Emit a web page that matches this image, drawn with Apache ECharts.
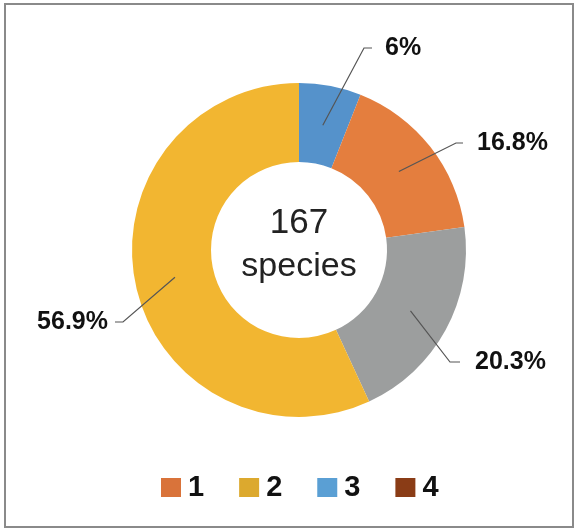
<!DOCTYPE html>
<html>
<head>
<meta charset="utf-8">
<script src="https://cdn.jsdelivr.net/npm/echarts@6/dist/echarts.min.js"></script>
<style>
  html, body { margin: 0; padding: 0; background: #fff; }
  #chart { width: 575px; height: 529px; }
</style>
</head>
<body>
<div id="chart"></div>
<script>
// slices, clockwise from 12 o'clock
const sliceNames = ["3", "1", "Other", "2", "4"]
const sliceValues = [6, 16.8, 20.3, 56.9, 0]
const legendNames = ["1", "2", "3", "4"]
const centerLines = ["167", "species"]

const sliceColors = {
    "3": "#5592cb",
    "1": "#e47e3e",
    "Other": "#9c9e9e",
    "2": "#f2b631",
    "4": "#8e3f17"
}
const legendColors = {
    "1": "#d9733a",
    "2": "#dca92e",
    "3": "#5a9fd4",
    "4": "#8a3c16"
}

// where each percentage label sits (left edge or right edge of the text)
const labelSpots = [
    { x: 385, y: 48, align: "left", gap: 13, run: 8 },
    { x: 477, y: 143, align: "left", gap: 14, run: 7 },
    { x: 475, y: 362, align: "left", gap: 15, run: 10 },
    { x: 108, y: 322, align: "right", gap: 7, run: 8 }
]

const center = [299, 250]
const fontFamily = "'Liberation Sans', Arial, sans-serif"

let myChart = echarts.init(document.getElementById("chart"))

let ringData = sliceNames.map((name, i) => ({
    name: name,
    value: sliceValues[i],
    itemStyle: { color: sliceColors[name] }
}))

let labelData = sliceNames.map((name, i) => ({
    name: name,
    value: sliceValues[i],
    label: { show: sliceValues[i] > 0 },
    labelLine: { show: sliceValues[i] > 0 }
}))

let option = {
    backgroundColor: "#fff",
    animation: false,
    legend: {
        data: legendNames.map(n => ({ name: n, itemStyle: { color: legendColors[n] } })),
        left: 156,
        top: 468,
        icon: "rect",
        itemWidth: 20,
        itemHeight: 19,
        itemGap: 35,
        selectedMode: false,
        textStyle: {
            fontFamily: fontFamily,
            fontWeight: "bold",
            fontSize: 29,
            color: "#111",
            padding: [0, 0, 0, 2]
        }
    },
    graphic: [
        {
            type: "rect",
            silent: true,
            shape: { x: 5, y: 4, width: 568, height: 523 },
            style: { fill: "none", stroke: "#8a8a8a", lineWidth: 2 }
        },
        {
            type: "text",
            silent: true,
            x: center[0],
            y: 223,
            style: {
                text: centerLines[0],
                textAlign: "center",
                textVerticalAlign: "middle",
                font: "35px " + fontFamily,
                fill: "#222"
            }
        },
        {
            type: "text",
            silent: true,
            x: center[0],
            y: 267,
            style: {
                text: centerLines[1],
                textAlign: "center",
                textVerticalAlign: "middle",
                font: "34px " + fontFamily,
                fill: "#222"
            }
        }
    ],
    series: [
        {
            type: "pie",
            center: center,
            radius: [88, 167],
            startAngle: 90,
            clockwise: true,
            silent: true,
            label: { show: false },
            labelLine: { show: false },
            data: ringData
        },
        {
            // invisible pie so the leader lines start halfway across the ring
            type: "pie",
            z: 5,
            center: center,
            radius: [0, 127],
            startAngle: 90,
            clockwise: true,
            silent: true,
            avoidLabelOverlap: false,
            itemStyle: { color: "rgba(0,0,0,0)" },
            label: {
                show: true,
                formatter: "{c}%",
                fontFamily: fontFamily,
                fontWeight: "bold",
                fontSize: 25,
                color: "#111"
            },
            labelLine: {
                show: true,
                length: 20,
                length2: 10,
                lineStyle: { color: "#555", width: 1.2 }
            },
            labelLayout: function (params) {
                let spot = labelSpots[params.dataIndex]
                if (!spot) return {}
                let dir = spot.align === "left" ? -1 : 1
                let end = [spot.x + dir * spot.gap, spot.y]
                let bend = [end[0] + dir * spot.run, spot.y]
                let out = {
                    x: spot.x,
                    y: spot.y,
                    align: spot.align,
                    verticalAlign: "middle"
                }
                if (params.labelLinePoints) {
                    out.labelLinePoints = [params.labelLinePoints[0], bend, end]
                }
                return out
            },
            data: labelData
        }
    ]
}

myChart.setOption(option)
</script>
</body>
</html>
